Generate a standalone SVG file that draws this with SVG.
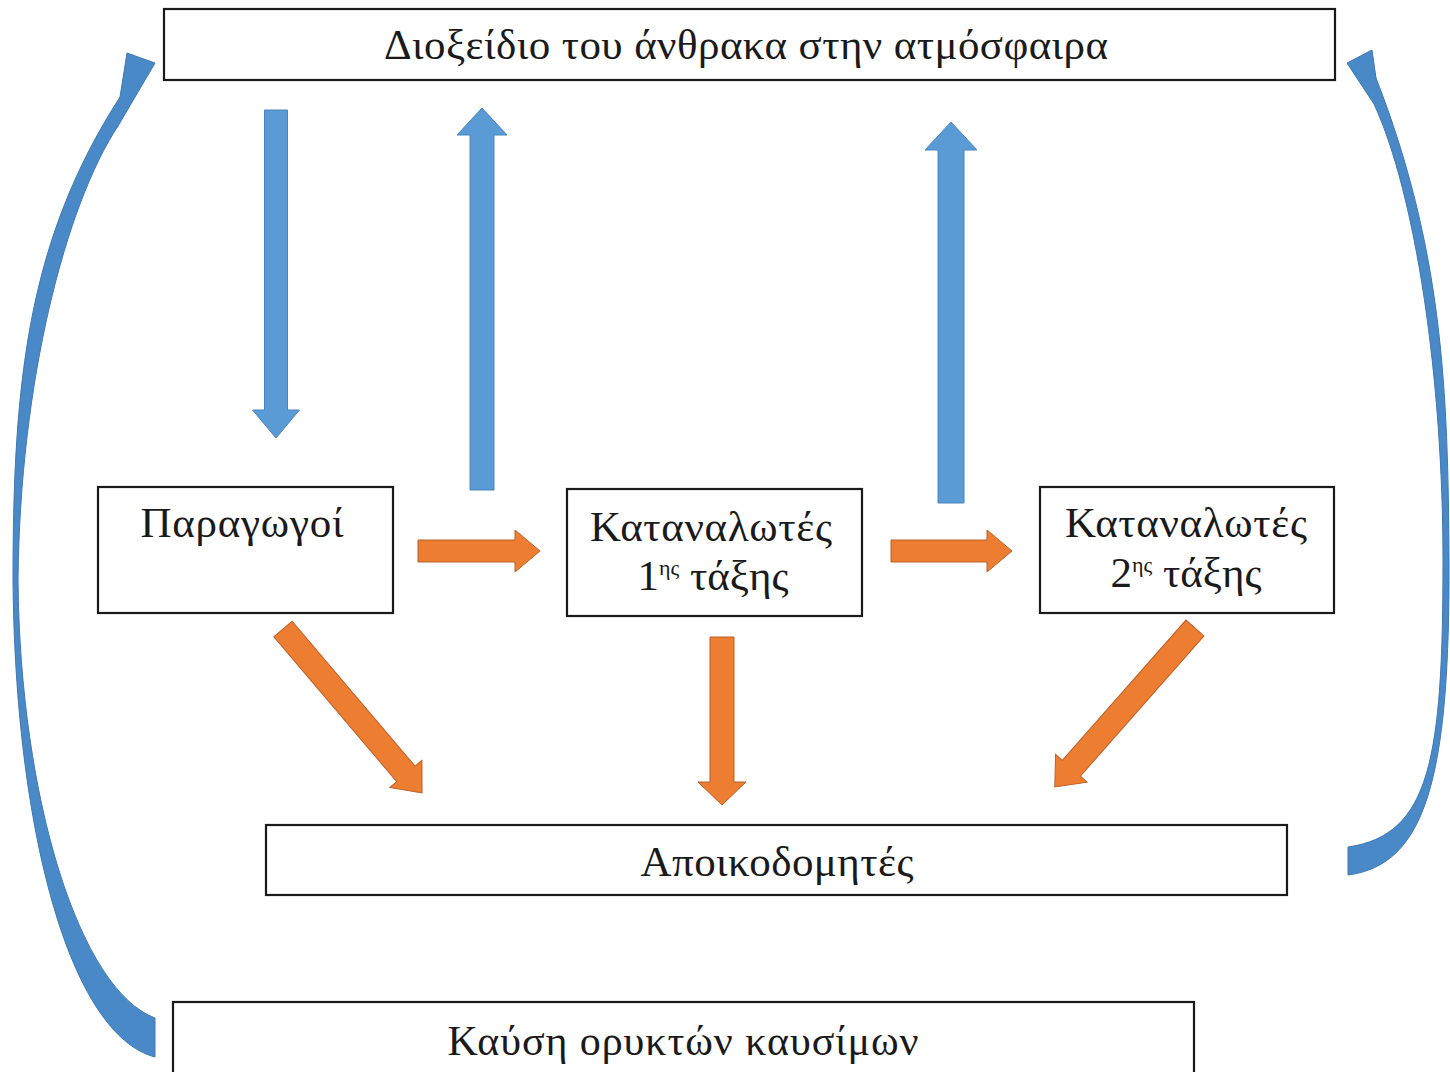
<svg xmlns="http://www.w3.org/2000/svg" width="1450" height="1072" viewBox="0 0 1450 1072">
<style>
.box{fill:#fff;stroke:#1a1a1a;stroke-width:2.2}
.t{font-family:"Liberation Serif","DejaVu Serif",serif;font-size:43px;fill:#1a1a1a;text-anchor:middle}
.tb{font-family:"Liberation Serif","DejaVu Serif",serif;font-size:42px;fill:#1a1a1a;text-anchor:middle}
.sup{font-size:22px}
.blue{fill:#5B9BD5;stroke:#4A85BD;stroke-width:1}
.curve{fill:#4A89C8;stroke:#3F78B0;stroke-width:1}
.orange{fill:#ED7D31;stroke:#B8612A;stroke-width:1}
</style>
<rect width="1450" height="1072" fill="#fff"/>
<g id="connectors">
  <path id="c-curve-left" class="curve" d="M155 1057 C70 1035 15 830 13 580 C13 380 28 240 120 97 L127 53 L155 63 L118 126 C66 205 20 380 18 580 C20 800 80 990 155 1018 Z"/>
  <path id="c-curve-right" class="curve" d="M1348 875 C1425 865 1450 780 1449 560 C1448 390 1443 250 1376 78 L1372 50 L1347 63 L1374 104 C1416 195 1443 380 1443 560 C1443 760 1430 835 1348 847 Z"/>
  <path id="c-co2-prod" class="blue" transform="translate(276,110) rotate(90)" d="M0 -11.5 L300 -11.5 L300 -23.5 L328 0 L300 23.5 L300 11.5 L0 11.5 Z"/>
  <path id="c-prod-co2" class="blue" transform="translate(482,490) rotate(-90)" d="M0 -12 L355 -12 L355 -25 L382 0 L355 25 L355 12 L0 12 Z"/>
  <path id="c-c1-co2" class="blue" transform="translate(951,503) rotate(-90)" d="M0 -13 L353 -13 L353 -26 L381 0 L353 26 L353 13 L0 13 Z"/>
  <path id="c-prod-c1" class="orange" transform="translate(418,551)" d="M0 -11 L97 -11 L97 -21 L122 0 L97 21 L97 11 L0 11 Z"/>
  <path id="c-c1-c2" class="orange" transform="translate(891,551)" d="M0 -11 L96 -11 L96 -21 L121 0 L96 21 L96 11 L0 11 Z"/>
  <path id="c-c1-dec" class="orange" transform="translate(722,637) rotate(90)" d="M0 -12 L145 -12 L145 -24 L168 0 L145 24 L145 12 L0 12 Z"/>
  <path id="c-prod-dec" class="orange" transform="translate(283,629) rotate(49.7)" d="M0 -12 L190 -12 L190 -21 L215 0 L190 21 L190 12 L0 12 Z"/>
  <path id="c-c2-dec" class="orange" transform="translate(1195,628) rotate(131.4)" d="M0 -12 L187 -12 L187 -21 L212 0 L187 21 L187 12 L0 12 Z"/>
</g>
<g id="co2">
  <rect class="box" x="164" y="9" width="1171" height="71"/>
  <text class="t" x="746" y="59" textLength="724">Διοξείδιο του άνθρακα στην ατμόσφαιρα</text>
</g>
<g id="producers">
  <rect class="box" x="98" y="487" width="295" height="126"/>
  <text class="t" x="242" y="537" textLength="203">Παραγωγοί</text>
</g>
<g id="consumers1">
  <rect class="box" x="567" y="489" width="295" height="127"/>
  <text class="t" x="711" y="541" textLength="242">Καταναλωτές</text>
  <text class="t" x="713" y="590">1<tspan class="sup" dy="-15">ης</tspan><tspan dy="15"> τάξης</tspan></text>
</g>
<g id="consumers2">
  <rect class="box" x="1040" y="487" width="294" height="126"/>
  <text class="t" x="1186" y="537" textLength="242">Καταναλωτές</text>
  <text class="t" x="1186" y="587">2<tspan class="sup" dy="-15">ης</tspan><tspan dy="15"> τάξης</tspan></text>
</g>
<g id="decomposers">
  <rect class="box" x="266" y="825" width="1021" height="70"/>
  <text class="t" x="777" y="876" textLength="273">Αποικοδομητές</text>
</g>
<g id="combustion">
  <rect class="box" x="173" y="1002" width="1021" height="80"/>
  <text class="tb" x="683" y="1055" textLength="471">Καύση ορυκτών καυσίμων</text>
</g>
</svg>
